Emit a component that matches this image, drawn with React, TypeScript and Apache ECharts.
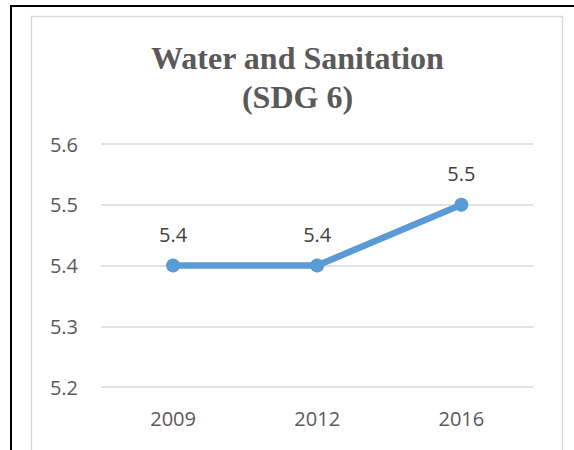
import React, { useEffect, useRef } from "react";
import * as echarts from "echarts";

const categories = ["2009", "2012", "2016"];
const values = [5.4, 5.4, 5.5];
const yTicks = { min: 5.2, max: 5.6, interval: 0.1 };
const titleLines = ["Water and Sanitation", "(SDG 6)"];

export default function App() {
  const ref = useRef<HTMLDivElement>(null);
  useEffect(() => {
    if (!ref.current) return;
    const chart = echarts.init(ref.current, undefined, { renderer: "svg" });
    chart.setOption({
      animation: false,
      backgroundColor: "#ffffff",
      graphic: [
        {
          type: "rect",
          shape: { x: 31.5, y: 16.5, width: 531, height: 460 },
          style: { fill: "none", stroke: "#D9D9D9", lineWidth: 1.5 },
          silent: true,
          z: 0,
        },
        {
          type: "line",
          shape: { x1: 10, y1: 6, x2: 574, y2: 6 },
          style: { stroke: "#000000", lineWidth: 2 },
          silent: true,
        },
        {
          type: "line",
          shape: { x1: 11, y1: 5, x2: 11, y2: 450 },
          style: { stroke: "#000000", lineWidth: 2 },
          silent: true,
        },
        {
          type: "text",
          x: 297.5,
          y: 38,
          style: {
            text: titleLines.join("\n"),
            fill: "#595959",
            font: "bold 32px 'Liberation Serif', 'Times New Roman', serif",
            lineHeight: 39,
            textAlign: "center",
            textVerticalAlign: "top",
          },
        },
      ],
      grid: { left: 101, right: 40.6, top: 144, bottom: 63 },
      xAxis: {
        type: "category",
        data: categories,
        boundaryGap: true,
        axisLine: { show: false },
        axisTick: { show: false },
        axisLabel: {
          color: "#595959",
          fontFamily: "Open Sans",
          fontSize: 20,
          margin: 21,
        },
      },
      yAxis: {
        type: "value",
        min: yTicks.min,
        max: yTicks.max,
        interval: yTicks.interval,
        axisLine: { show: false },
        axisTick: { show: false },
        splitLine: { lineStyle: { color: "#D9D9D9", width: 1.5 } },
        axisLabel: {
          color: "#595959",
          fontFamily: "Open Sans",
          fontSize: 20,
          margin: 23,
          formatter: (v: number) => v.toFixed(1),
        },
      },
      series: [
        {
          type: "line",
          data: values,
          symbol: "circle",
          symbolSize: 14,
          lineStyle: { color: "#5B9BD5", width: 6.5 },
          itemStyle: { color: "#5B9BD5" },
          label: {
            show: true,
            position: "top",
            distance: 14,
            color: "#404040",
            fontFamily: "Open Sans",
            fontSize: 20,
            formatter: (p: any) => Number(p.value).toFixed(1),
          },
        },
      ],
    });
    return () => chart.dispose();
  }, []);
  return (
    <div
      ref={ref}
      style={{ position: "absolute", left: 0, top: 0, width: 574, height: 450 }}
    />
  );
}
